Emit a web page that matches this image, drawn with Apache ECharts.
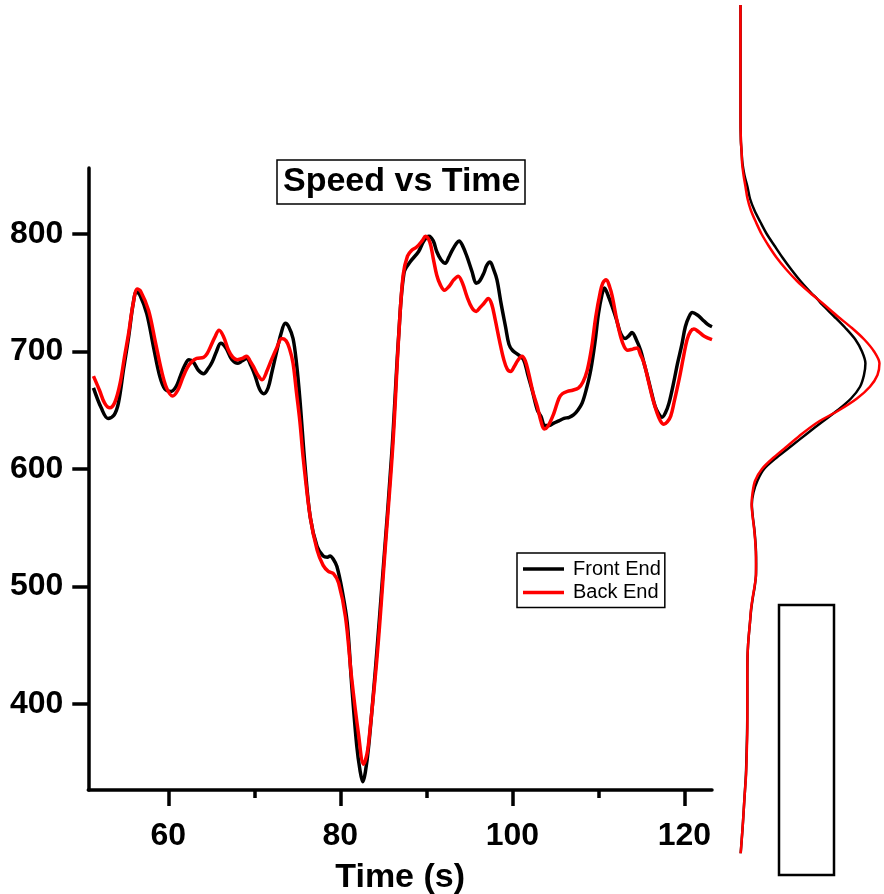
<!DOCTYPE html>
<html>
<head>
<meta charset="utf-8">
<script src="https://cdn.jsdelivr.net/npm/echarts@6/dist/echarts.min.js"></script>
<style>
html,body{margin:0;padding:0;background:#fff;}
#c{width:884px;height:894px;}
</style>
</head>
<body>
<div id="c"></div>
<script>
// ---------- data ----------
const timeFront = [51.3,52.2,53.0,53.7,54.2,54.8,55.4,55.9,56.3,56.7,57.5,58.3,59.0,59.6,60.3,60.9,61.4,61.9,62.4,62.9,63.5,64.1,64.6,65.1,65.6,66.1,66.7,67.4,68.1,68.6,69.1,69.6,70.1,70.6,71.1,71.6,72.0,72.6,73.1,73.6,74.0,74.5,74.9,75.3,75.9,76.5,77.3,78.0,78.5,78.8,79.2,79.6,80.2,80.8,81.3,81.9,82.3,82.6,82.9,83.3,84.1,85.0,86.0,86.8,87.4,88.1,89.1,89.7,90.3,90.8,91.2,91.7,92.2,92.6,93.0,93.5,93.8,94.2,94.7,95.3,95.8,96.2,96.7,97.0,97.4,97.8,98.2,98.7,99.2,99.6,100.0,100.7,101.3,101.8,102.3,102.9,103.3,103.8,104.3,104.8,105.4,106.0,106.6,107.1,107.6,108.1,108.6,109.1,109.6,110.0,110.4,110.7,111.1,111.6,112.1,112.6,113.1,113.5,113.9,114.4,114.9,115.3,115.7,116.2,116.6,117.0,117.4,117.8,118.2,118.7,119.2,119.7,120.1,120.5,120.9,121.5,122.1,122.7,123.2];
const speedFront = [669,652,643,646,656,685,713,740,751,748,732,703,679,668,666,670,679,688,693,691,684,681,685,691,700,707,703,693,690,692,694,688,679,668,664,669,681,700,715,724,721,711,690,659,602,559,534,526,525,526,523,517,497,469,418,365,343,334,342,365,432,517,616,716,767,776,785,794,798,794,785,778,775,780,786,792,794,790,781,768,758,760,767,773,776,770,761,740,721,706,701,697,693,680,667,650,645,637,637,639,641,643,644,646,650,656,668,684,708,732,748,754,748,738,727,715,711,713,716,710,701,690,679,664,653,647,644,648,656,672,690,706,721,729,733,731,727,723,721];

const timeBack = [51.3,52.0,52.6,53.2,53.8,54.4,54.9,55.4,55.9,56.4,56.8,57.7,58.5,59.2,59.8,60.5,61.1,61.7,62.2,62.7,63.3,64.1,64.5,64.9,65.4,65.9,66.4,67.0,67.5,68.0,68.6,69.1,69.5,69.9,70.4,70.9,71.5,72.0,72.6,73.2,73.7,74.1,74.5,74.9,75.3,75.7,76.5,77.3,78.0,78.6,79.2,79.8,80.6,81.3,82.1,82.7,83.1,83.4,84.3,85.2,86.1,86.8,87.3,87.8,88.3,88.9,89.5,89.9,90.4,90.8,91.2,91.6,92.1,92.6,93.2,93.7,94.2,94.7,95.3,95.8,96.2,96.7,97.2,97.6,98.0,98.5,99.0,99.4,99.8,100.2,100.6,101.1,101.5,101.9,102.4,102.9,103.3,103.7,104.1,104.8,105.4,105.8,106.4,107.0,107.7,108.2,108.7,109.2,109.7,110.2,110.5,110.9,111.3,111.6,112.1,112.6,113.0,113.4,114.0,114.5,114.9,115.3,115.8,116.3,116.8,117.2,117.6,118.0,118.4,118.8,119.4,119.9,120.3,120.7,121.1,121.6,122.3,123.2];
const speedBack = [679,667,656,652,657,673,695,716,740,753,751,735,708,684,669,662,667,678,686,691,694,695,698,704,712,718,713,701,695,693,694,696,692,687,680,676,684,693,703,711,709,702,690,665,640,608,559,531,518,513,511,503,474,423,375,349,358,375,443,531,620,715,765,781,786,789,794,798,793,779,765,757,752,755,761,764,758,747,737,734,737,741,745,740,727,709,693,685,683,687,692,696,692,681,665,653,641,634,636,647,660,664,666,667,669,674,684,703,730,750,758,761,755,747,728,712,704,701,702,703,697,690,675,660,648,641,638,640,645,657,677,696,710,717,719,717,713,710];

// density panel (speed levels and density values, x1e-3)
const densitySpeed = [995,950,900,880,870,860,850,840,830,820,810,800,790,780,770,760,750,745,740,730,720,710,700,690,680,670,660,650,640,630,620,610,600,590,580,570,560,550,540,530,520,510,500,490,480,470,460,450,440,420,400,380,360,340,320,300,285,273];
const densityFront = [0,0,0,0.02,0.06,0.11,0.22,0.39,0.53,0.78,1.11,1.46,1.89,2.33,2.81,3.33,3.92,4.25,4.53,5.19,5.83,6.39,6.75,6.94,6.86,6.64,6.14,5.39,4.53,3.69,2.86,2.03,1.31,0.94,0.72,0.63,0.68,0.76,0.82,0.86,0.87,0.86,0.79,0.68,0.59,0.53,0.47,0.42,0.39,0.38,0.38,0.37,0.34,0.30,0.22,0.14,0.07,0.01];
const densityBack = [0,0,0,0.02,0.06,0.09,0.17,0.28,0.39,0.58,0.86,1.17,1.56,2.00,2.53,3.14,3.86,4.25,4.64,5.39,6.19,6.89,7.42,7.72,7.61,7.19,6.47,5.47,4.31,3.42,2.64,1.86,1.19,0.81,0.67,0.62,0.67,0.75,0.81,0.85,0.86,0.86,0.78,0.67,0.58,0.53,0.47,0.42,0.39,0.38,0.38,0.38,0.35,0.31,0.22,0.14,0.07,0.01];

const xMajorTicks = [60, 80, 100, 120];
const xMinorTicks = [70, 90, 110];
const yTicks = [400, 500, 600, 700, 800];
const seriesNames = ['Front End', 'Back End'];

// ---------- chart ----------
const FONT = '"Liberation Sans", Arial, sans-serif';
const zip = (a, b) => a.map((v, i) => [v, b[i]]);
const chart = echarts.init(document.getElementById('c'), null, {renderer: 'canvas'});

const option = {
  animation: false,
  backgroundColor: '#fff',
  title: {
    text: 'Speed vs Time',
    left: 277, top: 160,
    padding: [5, 5, 5, 6],
    borderColor: '#000', borderWidth: 1.5,
    textStyle: {fontFamily: FONT, fontWeight: 'bold', fontSize: 34, lineHeight: 34, color: '#000'}
  },
  legend: {
    data: seriesNames,
    orient: 'vertical',
    left: 517, top: 553,
    padding: [6, 4, 5, 6],
    borderColor: '#000', borderWidth: 1.5,
    icon: 'rect',
    itemWidth: 41, itemHeight: 3.5, itemGap: 3.4,
    textStyle: {fontFamily: FONT, fontSize: 20, lineHeight: 20, color: '#000', padding: [0, 0, 0, 4]}
  },
  grid: [
    {left: 88.3, top: 168, width: 623.7, height: 622, outerBoundsMode: 'none', containLabel: false},
    {left: 740.5, top: -1, width: 144, height: 857.75, outerBoundsMode: 'none', containLabel: false}
  ],
  xAxis: [
    {
      gridIndex: 0, type: 'value', min: 50.7, max: 123.2,
      axisLine: {show: true, onZero: false, lineStyle: {color: '#000', width: 3.5}},
      axisTick: {show: true, customValues: xMajorTicks, length: 16, lineStyle: {color: '#000', width: 3.5}},
      axisLabel: {customValues: xMajorTicks, margin: 30, fontFamily: FONT, fontSize: 32, fontWeight: 'bold', color: '#000'},
      splitLine: {show: false},
      name: 'Time (s)', nameLocation: 'middle', nameGap: 71,
      nameTextStyle: {fontFamily: FONT, fontSize: 34, fontWeight: 'bold', color: '#000'}
    },
    {
      gridIndex: 0, type: 'value', min: 50.7, max: 123.2, position: 'bottom',
      axisLine: {show: false, onZero: false},
      axisTick: {show: true, customValues: xMinorTicks, length: 8, lineStyle: {color: '#000', width: 3.5}},
      axisLabel: {show: false},
      splitLine: {show: false}
    },
    {gridIndex: 1, type: 'value', min: 0, max: 8, show: false, splitLine: {show: false}}
  ],
  yAxis: [
    {
      gridIndex: 0, type: 'value', min: 327, max: 856,
      axisLine: {show: true, onZero: false, lineStyle: {color: '#000', width: 3.5}},
      axisTick: {show: true, customValues: yTicks, length: 16, lineStyle: {color: '#000', width: 3.5}},
      axisLabel: {customValues: yTicks, margin: 25, fontFamily: FONT, fontSize: 32, fontWeight: 'bold', color: '#000'},
      splitLine: {show: false}
    },
    {gridIndex: 1, type: 'value', min: 270, max: 1000, show: false, splitLine: {show: false}}
  ],
  series: [
    {
      name: seriesNames[0], type: 'line', xAxisIndex: 0, yAxisIndex: 0,
      data: zip(timeFront, speedFront), symbol: 'none', smooth: 0.35,
      lineStyle: {color: '#000', width: 3.5}, itemStyle: {color: '#000'}, z: 2
    },
    {
      name: seriesNames[1], type: 'line', xAxisIndex: 0, yAxisIndex: 0,
      data: zip(timeBack, speedBack), symbol: 'none', smooth: 0.35,
      lineStyle: {color: '#ff0000', width: 3.5}, itemStyle: {color: '#ff0000'}, z: 3
    },
    {
      name: 'Front End density', type: 'line', xAxisIndex: 2, yAxisIndex: 1,
      data: zip(densityFront, densitySpeed), symbol: 'none', smooth: 0.3,
      lineStyle: {color: '#000', width: 2.5}, z: 2
    },
    {
      name: 'Back End density', type: 'line', xAxisIndex: 2, yAxisIndex: 1,
      data: zip(densityBack, densitySpeed), symbol: 'none', smooth: 0.3,
      lineStyle: {color: '#ff0000', width: 2.5}, z: 3
    }
  ],
  graphic: [
    {type: 'rect', shape: {x: 779, y: 605, width: 55, height: 270},
     style: {fill: '#fff', stroke: '#000', lineWidth: 2.5}}
  ]
};
chart.setOption(option);
</script>
</body>
</html>
